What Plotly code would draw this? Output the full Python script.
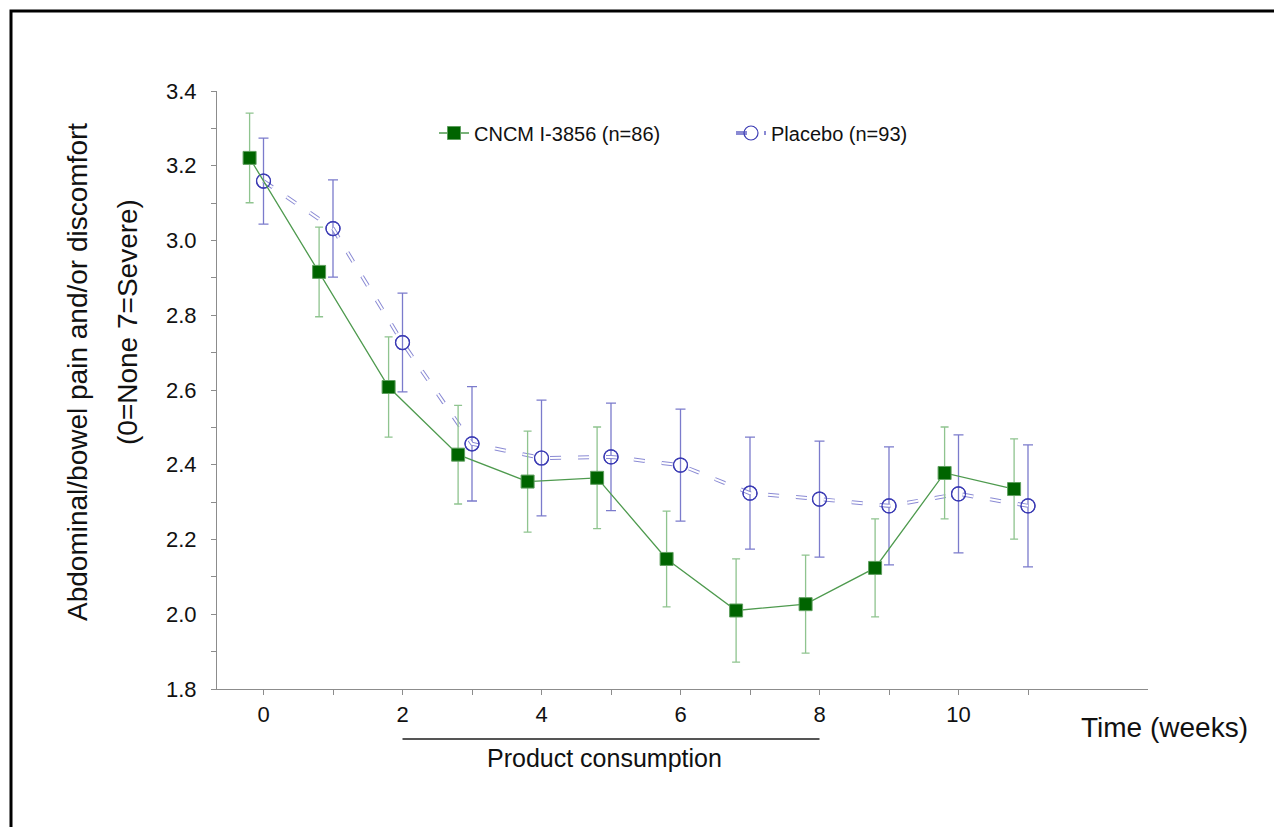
import plotly.graph_objs as go

# Values
weeks = [0, 1, 2, 3, 4, 5, 6, 7, 8, 9, 10, 11]
cncm_mean = [3.221, 2.916, 2.608, 2.427, 2.355, 2.365, 2.148, 2.010, 2.027, 2.124, 2.378, 2.335]
cncm_err = [0.120, 0.120, 0.134, 0.132, 0.135, 0.136, 0.128, 0.138, 0.131, 0.131, 0.123, 0.134]
placebo_mean = [3.159, 3.032, 2.727, 2.456, 2.418, 2.421, 2.399, 2.324, 2.308, 2.290, 2.322, 2.290]
placebo_err = [0.115, 0.130, 0.132, 0.153, 0.155, 0.144, 0.150, 0.150, 0.155, 0.158, 0.158, 0.163]
cncm_shift = -0.2  # green series plotted slightly left of the week

x_ticks = [0, 2, 4, 6, 8, 10]
x_minor = [1, 3, 5, 7, 9, 11]
y_ticks = [1.8, 2.0, 2.2, 2.4, 2.6, 2.8, 3.0, 3.2, 3.4]
y_minor = [1.9, 2.1, 2.3, 2.5, 2.7, 2.9, 3.1, 3.3]
consumption_weeks = [2, 8]

# page has an 8px body margin, so the figure sits at (8, 8)
OFF = 8
W, H = 1282 - OFF, 827 - OFF
L, T = 217 - OFF, 91 - OFF
R, B = W - (1148 - OFF), H - (689 - OFF)
FONT = 'Liberation Sans, Arial, sans-serif'


def px(xp):
    return (xp - OFF - L) / (W - L - R)


def py(yp):
    return (H - B - (yp - OFF)) / (H - T - B)


fig = go.Figure()

# placebo: hollow dashes = wide blue dash with a thin white dash on top
fig.add_trace(go.Scatter(name='Placebo (n=93)',
                         x=weeks, y=placebo_mean,
                         mode='lines+markers',
                         legend='legend2',
                         line={'color': '#8a8ad4', 'width': 4, 'dash': '11px,17px'},
                         marker={'symbol': 'circle-open', 'size': 14, 'color': '#3c3cb4',
                                 'line': {'width': 1.2}},
                         error_y={'type': 'data', 'array': placebo_err, 'color': '#7b7bcc',
                                  'thickness': 1.3, 'width': 5}))
fig.add_trace(go.Scatter(x=weeks, y=placebo_mean, mode='lines', showlegend=False,
                         hoverinfo='skip',
                         line={'color': 'white', 'width': 2, 'dash': '11px,17px'}))
fig.add_trace(go.Scatter(x=weeks, y=placebo_mean, mode='markers', showlegend=False,
                         marker={'symbol': 'circle-open', 'size': 14, 'color': '#3c3cb4',
                                 'line': {'width': 1.2}}))

fig.add_trace(go.Scatter(name='CNCM I-3856 (n=86)',
                         x=[w + cncm_shift for w in weeks], y=cncm_mean,
                         mode='lines+markers',
                         legend='legend',
                         line={'color': '#4e9a4e', 'width': 1.3},
                         marker={'symbol': 'square', 'size': 13, 'color': '#006400',
                                 'line': {'color': '#5f9f5f', 'width': 1}},
                         error_y={'type': 'data', 'array': cncm_err, 'color': '#8fc48f',
                                  'thickness': 1.3, 'width': 4}))

axis_style = dict(showline=True, linecolor='#8c8c8c', linewidth=1, showgrid=False,
                  zeroline=False, ticks='outside', ticklen=5, tickcolor='#8c8c8c',
                  tickfont={'family': FONT, 'size': 22, 'color': '#111'})

fig.update_xaxes(range=[(217 - 263.5) / 69.5, (1148 - 263.5) / 69.5],
                 tickvals=x_ticks, ticklabelstandoff=1,
                 minor={'tickvals': x_minor, 'ticks': 'outside', 'ticklen': 5,
                        'tickcolor': '#8c8c8c'},
                 **axis_style)
fig.update_yaxes(range=[1.8, 3.4], tickvals=y_ticks, tickformat='.1f',
                 ticklabelstandoff=10,
                 minor={'tickvals': y_minor, 'ticks': 'outside', 'ticklen': 5,
                        'tickcolor': '#8c8c8c'},
                 **axis_style)

legend_style = dict(orientation='h', yanchor='middle', xanchor='left',
                    bgcolor='rgba(0,0,0,0)', font={'family': FONT, 'size': 20, 'color': '#111'})

txt = dict(xref='paper', yref='paper', showarrow=False, xanchor='center', yanchor='middle')

fig.update_layout(
    width=W, height=H,
    margin=dict(l=L, r=R, t=T, b=B),
    paper_bgcolor='white', plot_bgcolor='white',
    font={'family': FONT, 'color': '#111'},
    legend=dict(x=px(434), y=py(133), **legend_style),
    legend2=dict(x=px(731), y=py(133), **legend_style),
    shapes=[
        dict(type='line', xref='x', yref='paper', x0=consumption_weeks[0], x1=consumption_weeks[1],
             y0=py(739), y1=py(739), line={'color': '#555', 'width': 2}),
        dict(type='rect', xref='paper', yref='paper', x0=px(11), x1=px(1310),
             y0=py(860), y1=py(11), line={'color': 'black', 'width': 3}),
    ],
    annotations=[
        dict(text='Time (weeks)', x=px(1164), y=py(727),
             font={'family': FONT, 'size': 28, 'color': '#111'}, **txt),
        dict(text='Product consumption', x=px(604), y=py(758),
             font={'family': FONT, 'size': 25, 'color': '#111'}, **txt),
        dict(text='Abdominal/bowel pain and/or discomfort', x=px(77), y=py(372),
             textangle=-90, font={'family': FONT, 'size': 28, 'color': '#111'}, **txt),
        dict(text='(0=None 7=Severe)', x=px(127), y=py(322),
             textangle=-90, font={'family': FONT, 'size': 28, 'color': '#111'}, **txt),
    ],
)

fig.write_html('out.html')
